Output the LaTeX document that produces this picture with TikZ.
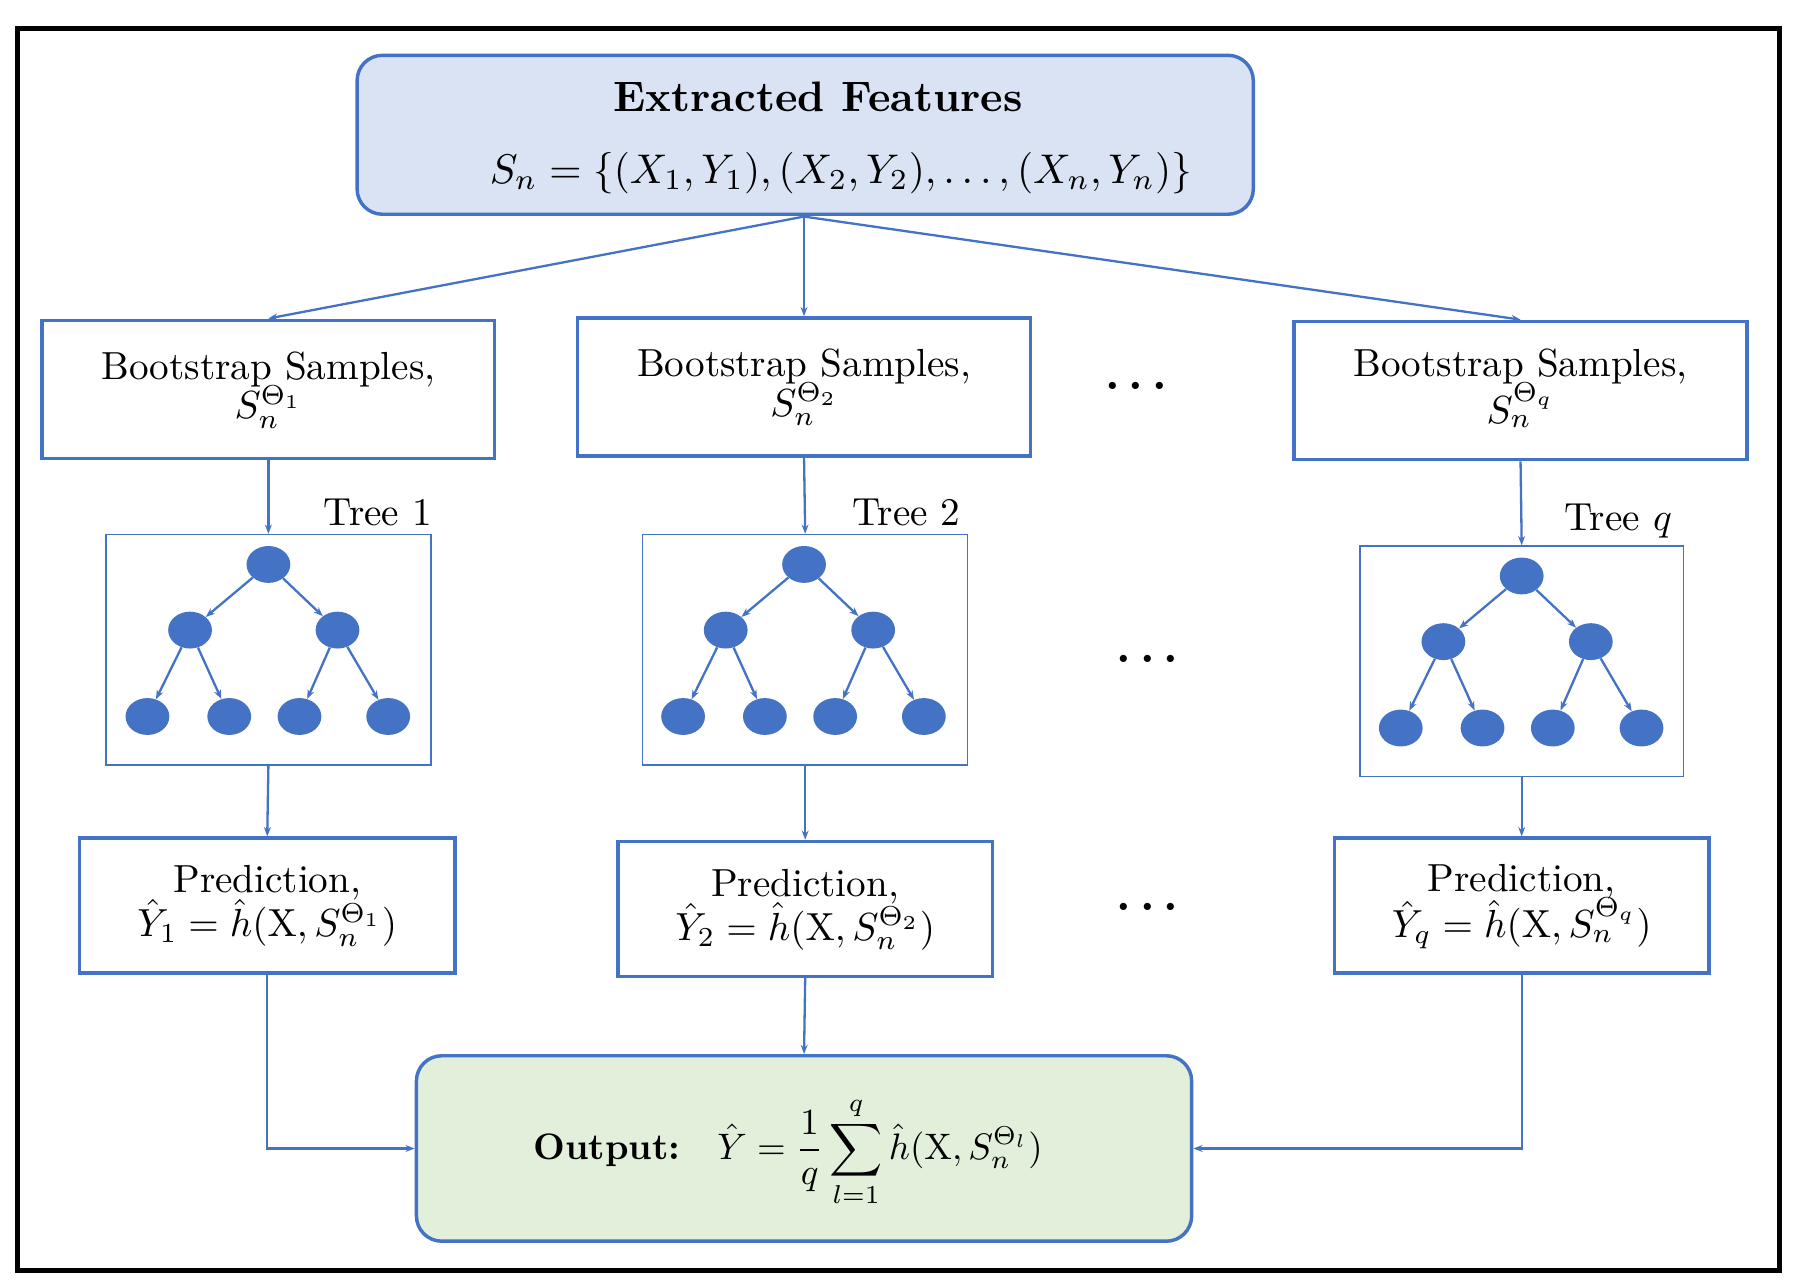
\documentclass[tikz,border=0pt]{standalone}
\usepackage{graphicx}
\usepackage{amsmath,bm}
\usetikzlibrary{arrows.meta,shapes.geometric}
\definecolor{bl}{RGB}{68,114,196}
\definecolor{lb}{RGB}{218,227,243}
\definecolor{lg}{RGB}{226,239,218}
\newcommand{\bx}[2]{\scalebox{3.4}{\begin{tabular}{@{}c@{}}#1\\[-2pt] #2\end{tabular}}}
\begin{document}
\begin{tikzpicture}[x=1pt,y=-1pt,
  box/.style={draw=bl,line width=3pt,fill=white,inner sep=0pt,align=center},
  tbox/.style={draw=bl,line width=1.2pt,inner sep=0pt},
  leaf/.style={ellipse,fill=bl,minimum width=38pt,minimum height=32pt,inner sep=0pt},
  arr/.style={draw=bl,line width=2pt,-{Stealth[length=8pt,width=6pt]}},
  tree/.pic={
    \node[leaf] (-r) at (0,0) {};
    \node[leaf] (-a) at (-68,57) {};
    \node[leaf] (-b) at (60,57) {};
    \node[leaf] (-c) at (-105,132) {};
    \node[leaf] (-d) at (-34,132) {};
    \node[leaf] (-e) at (27,132) {};
    \node[leaf] (-g) at (104,132) {};
    \draw[arr] (-r) -- (-a); \draw[arr] (-r) -- (-b);
    \draw[arr] (-a) -- (-c); \draw[arr] (-a) -- (-d);
    \draw[arr] (-b) -- (-e); \draw[arr] (-b) -- (-g);
  }]
\useasboundingbox (0,0) rectangle (1560,1113);
\draw[line width=4pt] (15,25) rectangle (1545,1103);
% top
\node[box,rounded corners=22pt,fill=lb,minimum width=778pt,minimum height=138pt] (top) at (699,117) {};
\node (tt) at (710,84) {\scalebox{3.7}{\bfseries Extracted Features}};
\node (tm) at (730,150) {\scalebox{3.6}{$S_n=\{(X_1,Y_1),(X_2,Y_2),\dots,(X_n,Y_n)\}$}};
% bootstrap
\node[box,minimum width=393pt,minimum height=120pt] (b1) at (233,338) {\bx{Bootstrap Samples,}{$S_n^{\Theta_1}$}};
\node[box,minimum width=393pt,minimum height=120pt] (b2) at (698,336) {\bx{Bootstrap Samples,}{$S_n^{\Theta_2}$}};
\node[box,minimum width=393pt,minimum height=120pt] (b3) at (1320,339) {\bx{Bootstrap Samples,}{$S_n^{\Theta_q}$}};
% trees
\node[tbox,minimum width=282pt,minimum height=200pt] (t1) at (233,564) {};
\node[tbox,minimum width=282pt,minimum height=200pt] (t2) at (699,564) {};
\node[tbox,minimum width=281pt,minimum height=200pt] (t3) at (1321,574) {};
\node (l1) at (328,445) {\scalebox{3.4}{Tree 1}};
\node (l2) at (787,445) {\scalebox{3.4}{Tree 2}};
\node (l3) at (1405,452) {\scalebox{3.4}{Tree $q$}};
\pic (p1) at (233,490) {tree};
\pic (p2) at (698,490) {tree};
\pic (p3) at (1321,500) {tree};
% predictions
\node[box,minimum width=326pt,minimum height=117pt] (r1) at (232,786) {\bx{Prediction,}{$\hat{Y}_1=\hat{h}(\mathrm{X},S_n^{\Theta_1})$}};
\node[box,minimum width=325pt,minimum height=117pt] (r2) at (699,789) {\bx{Prediction,}{$\hat{Y}_2=\hat{h}(\mathrm{X},S_n^{\Theta_2})$}};
\node[box,minimum width=325pt,minimum height=117pt] (r3) at (1321,786) {\bx{Prediction,}{$\hat{Y}_q=\hat{h}(\mathrm{X},S_n^{\Theta_q})$}};
% output
\node[box,rounded corners=22pt,fill=lg,minimum width=673pt,minimum height=161pt] (out) at (698,997) {};
\node (ot) at (684,1000) {\scalebox{3.2}{\textbf{Output:}\quad $\hat{Y}=\dfrac{1}{q}\displaystyle\sum_{l=1}^{q}\hat{h}(\mathrm{X},S_n^{\Theta_l})$}};
% dots
\node (d1) at (990,336) {\scalebox{4}{$\bm{\cdots}$}};
\node (d2) at (1000,573) {\scalebox{4}{$\bm{\cdots}$}};
\node (d3) at (1000,788) {\scalebox{4}{$\bm{\cdots}$}};
% arrows
\coordinate (src) at (698,188);
\draw[arr] (src) -- (b1.north);
\draw[arr] (src) -- (b2.north);
\draw[arr] (src) -- (b3.north);
\draw[arr] (b1.south) -- (t1.north);
\draw[arr] (b2.south) -- (t2.north);
\draw[arr] (b3.south) -- (t3.north);
\draw[arr] (t1.south) -- (r1.north);
\draw[arr] (t2.south) -- (r2.north);
\draw[arr] (t3.south) -- (r3.north);
\draw[arr] (r1.south) |- (out.west);
\draw[arr] (r2.south) -- (out.north);
\draw[arr] (r3.south) |- (out.east);
\end{tikzpicture}
\end{document}
